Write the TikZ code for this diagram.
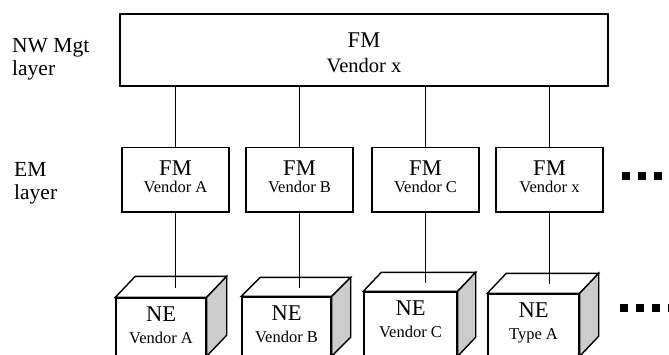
\documentclass[tikz,border=0pt]{standalone}
\usepackage{fontspec}
\setmainfont{Liberation Serif}
\definecolor{sidegray}{RGB}{204,204,204}
\newcommand{\bigtxt}{\fontsize{22.5}{23}\selectfont}
\newcommand{\smalltxt}{\fontsize{16.5}{17}\selectfont}
\newcommand{\necube}[3]{%
  \draw[cubeline, fill=white] (#1.north west) -- ++(#2,-#3) -- ([shift={(#2,-#3)}]#1.north east) -- (#1.north east) -- cycle;
  \draw[cubeline, fill=sidegray] (#1.north east) -- ++(#2,-#3) -- ([shift={(#2,-#3)}]#1.south east) -- (#1.south east) -- cycle;
}
\begin{document}
\begin{tikzpicture}[x=1pt, y=-1pt,
  cubeline/.style={line width=1.4pt, line join=miter},
  boxbase/.style={draw, line width=1.4pt, inner sep=0pt, align=center, fill=white},
  topbox/.style={boxbase, minimum width=488pt, text height=58pt, text depth=14pt,
     font=\fontsize{20.5}{25}\selectfont},
  embox/.style={boxbase, minimum width=107pt, text height=45pt, text depth=19.5pt,
     font=\smalltxt},
  nebox/.style={boxbase, text height=45pt, font=\fontsize{16.5}{22}\selectfont},
  lbl/.style={inner sep=0pt, align=left, anchor=north west, text depth=0pt,
     font=\fontsize{21.5}{23}\selectfont},
  link/.style={line width=1.4pt},
  dot/.style={fill=black}]
\useasboundingbox (0,0) rectangle (669,354);
\clip (0,0) rectangle (669,354);

% layer labels
\node[lbl, text height=45pt] (lblnw) at (12,30) {NW Mgt\\layer};
\node[lbl, text height=49pt] (lblem) at (14,150) {EM\\layer};

% network management box
\node[topbox] (top) at (364,50) {{\bigtxt FM}\\Vendor x};

% element manager boxes
\node[embox] (emA) at (175.5,179.75) {{\bigtxt FM}\\Vendor A};
\node[embox] (emB) at (299.5,179.75) {{\bigtxt FM}\\Vendor B};
\node[embox] (emC) at (425.5,179.75) {{\bigtxt FM}\\Vendor C};
\node[embox] (emX) at (549.5,179.75) {{\bigtxt FM}\\Vendor x};

% network element cubes (front faces)
\node[nebox, minimum width=90pt, text depth=12.5pt] (neA) at (161,326.75) {{\bigtxt NE}\\Vendor A};
\node[nebox, minimum width=89pt, text depth=13.5pt] (neB) at (286.5,326.25) {{\bigtxt NE}\\Vendor B};
\node[nebox, minimum width=93pt, text depth=18.5pt] (neC) at (410.5,323.75) {{\bigtxt NE}\\Vendor C};
\node[nebox, minimum width=91pt, text depth=16.5pt] (neT) at (533.5,324.75) {{\bigtxt NE}\\Type A};
\necube{neA}{20}{21}
\necube{neB}{19}{19}
\necube{neC}{18}{19}
\necube{neT}{19}{20}

% connection points on the cube tops
\coordinate (tA) at (emA.south |- 0,287.5);
\coordinate (tB) at (emB.south |- 0,287.5);
\coordinate (tC) at (emC.south |- 0,282.5);
\coordinate (tT) at (emX.south |- 0,284);

% connectors
\draw[link] (top.south -| emA.north) -- (emA.north);
\draw[link] (top.south -| emB.north) -- (emB.north);
\draw[link] (top.south -| emC.north) -- (emC.north);
\draw[link] (top.south -| emX.north) -- (emX.north);
\draw[link] (emA.south) -- (tA);
\draw[link] (emB.south) -- (tB);
\draw[link] (emC.south) -- (tC);
\draw[link] (emX.south) -- (tT);

% continuation marks
\foreach \xx in {622,638,654} \fill[dot] (\xx,172) rectangle ++(8,8);
\foreach \xx in {620,636,652,668} \fill[dot] (\xx,303.5) rectangle ++(8,8);
\end{tikzpicture}
\end{document}
